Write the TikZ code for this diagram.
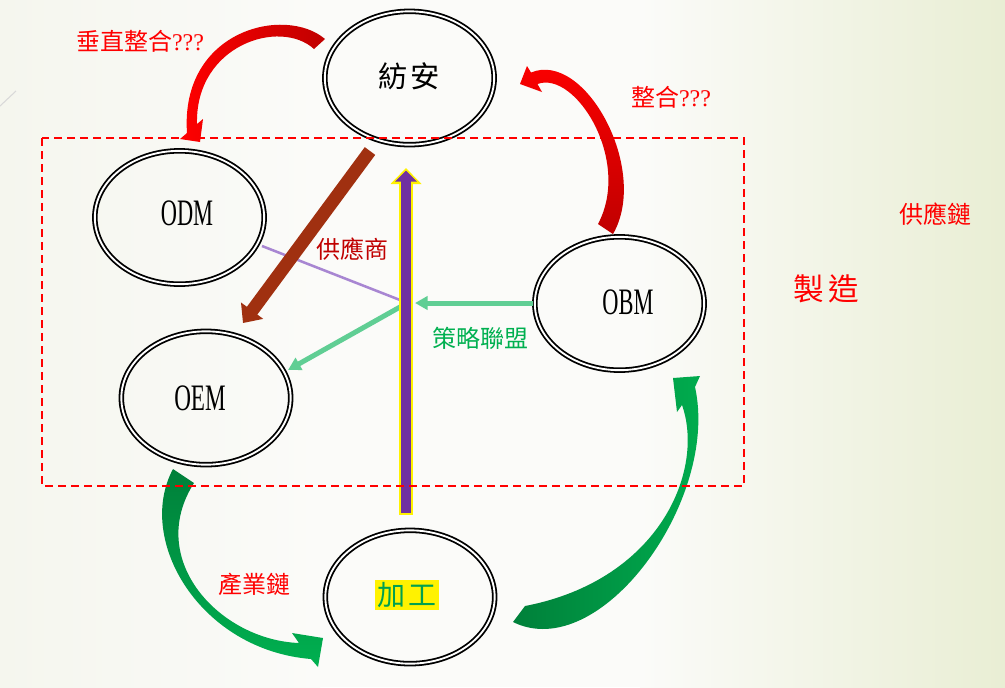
\documentclass[tikz,border=0pt]{standalone}
\usepackage{fontspec}
\setmainfont{Liberation Serif}
\newfontfamily\cjk{Noto Sans CJK TC}
\usetikzlibrary{arrows.meta,shapes.geometric,calc}
\definecolor{bgL}{RGB}{245,246,238}
\definecolor{bgM}{RGB}{251,251,249}
\definecolor{bgR}{RGB}{233,238,212}
\definecolor{brn}{RGB}{160,48,16}
\definecolor{purp}{RGB}{112,48,160}
\definecolor{lav}{RGB}{168,134,210}
\definecolor{lgrn}{RGB}{96,206,148}
\definecolor{grn}{RGB}{0,176,80}
\definecolor{dgrn}{RGB}{0,128,58}
\definecolor{dred}{RGB}{192,0,0}
\definecolor{jgtxt}{RGB}{0,160,80}
\begin{document}
\begin{tikzpicture}[x=0.75pt,y=-0.75pt,
  ell/.style={ellipse, draw=black, line width=1.35pt, double=white, double distance=1.4pt,
              minimum width=127pt, minimum height=100pt, inner sep=0pt},
  latin/.style={font=\fontsize{28}{30}\selectfont, text=black, inner sep=0pt},
  zh/.style={font=\cjk\fontsize{18}{20}\selectfont, inner sep=0pt},
  redlbl/.style={zh, text=red},
  thinline/.style={line width=3.75pt, lgrn, -{Triangle[width=10pt,length=9.5pt]}},
]
\useasboundingbox (0,0) rectangle (1005,687);
\shade[left color=bgL, right color=bgM] (0,0) rectangle (320,687);
\fill[bgM] (319,0) rectangle (641,687);
\shade[left color=bgM, right color=bgR] (640,0) rectangle (1005,687);
\draw[gray!30, line width=0.8pt] (0,106) -- (16,91);

% ellipses
\node[ell] (fa)  at (409.5,78) {};
\node[ell] (odm) at (179.5,217.5) {};
\node[ell] (oem) at (206,398) {};
\node[ell] (obm) at (619.5,303.5) {};
\node[ell] (jg)  at (410,597) {};

% texts inside ellipses
\node[zh, font=\cjk\fontsize{22}{24}\selectfont, text=black] (fat) at (409,76) {紡\hspace{2pt}安};
\node[latin] (odmt) at (187,213) {\scalebox{0.6}[1]{ODM}};
\node[latin] (oemt) at (200,398) {\scalebox{0.62}[1]{OEM}};
\node[latin] (obmt) at (628,302) {\scalebox{0.6}[1]{OBM}};
\node[fill=yellow, inner sep=1.5pt, text=jgtxt, font=\cjk\fontsize{21}{23}\selectfont] (jgt) at (407,595) {加\hspace{3pt}工};

% hub points on the purple arrow
\coordinate (hub1) at ($(jg.center)+(-10,-297)$);
\coordinate (hub2) at ($(jg.center)+(5,-294)$);
\coordinate (hub3) at ($(jg.center)+(-10,-290)$);

% thin connectors
\draw[lav, line width=1.9pt] ($(odm.center)+(82.5,28.5)$) -- (hub1);
\draw[thinline] ($(obm.center)+(-87,-0.5)$) -- (hub2);
\draw[thinline] (hub3) -- ($(oem.center)+(82,-28)$);

% brown arrow
\draw[brn, line width=9.75pt, -{Triangle[width=20pt,length=11.5pt]}]
  ($(fa.center)+(-39.5,73)$) -- ($(oem.center)+(37,-75)$);

% green curved arrows
\begin{scope}[shift={($(oem.center)+(-206,-398)$)}]
\shade[top color=dgrn, bottom color=grn]
 (173,469) .. controls (135,540) and (200,650) .. (311,659)
 -- (318,667) -- (323,638) -- (292,633) -- (299,643)
 .. controls (220,640) and (145,560) .. (194,483) -- cycle;
\end{scope}
\begin{scope}[shift={($(jg.center)+(-410,-597)$)}]
\shade[left color=dgrn, right color=grn]
 (513,622) .. controls (600,665) and (720,500) .. (695,387)
 -- (700,376) -- (673,378) -- (677,412) -- (682,405)
 .. controls (705,470) and (660,580) .. (525,606) -- cycle;
\end{scope}

% purple arrow
\coordinate (pa) at ($(jg.center)+(-4,-82)$);
\coordinate (pb) at ($(fa.center)+(-3.5,90)$);
\draw[yellow, line width=10.5pt, -{Triangle[width=22.5pt,length=12pt]}] (pa) -- (pb);
\draw[purp, line width=7.5pt, shorten <=1.5pt, shorten >=1.9pt, -{Triangle[width=16pt,length=8.25pt]}] (pa) -- (pb);

% dashed frame
\draw[red, line width=1.5pt, dash pattern=on 6pt off 3.75pt] (42,138) rectangle (744,486);

% red curved arrows
\begin{scope}[shift={($(fa.center)+(-409.5,-78)$)}]
\shade[left color=red, right color=dred]
 (325,39) .. controls (285,5) and (180,30) .. (187,133)
 -- (180,139) -- (200,142) -- (203,119) -- (197,124)
 .. controls (195,45) and (280,18) .. (314,49) -- cycle;
\end{scope}
\begin{scope}[shift={($(obm.center)+(-619.5,-303.5)$)}]
\shade[top color=red, bottom color=dred]
 (613,234) .. controls (650,170) and (585,50) .. (531,72.5)
 -- (527,66) -- (520,84) -- (542,92) -- (537.5,84)
 .. controls (575,70) and (632,160) .. (598,224) -- cycle;
\end{scope}

% labels
\node[redlbl] (l1) at (140,41) {垂直整合{\rmfamily ???}};
\node[redlbl] (l2) at (671,97) {整合{\rmfamily ???}};
\node[redlbl] (l3) at (935,214) {供應鏈};
\node[redlbl, font=\cjk\fontsize{23}{25}\selectfont] (l4) at (826,289) {製\hspace{3pt}造};
\node[zh, text=dred] (l5) at (352,249) {供應商};
\node[zh, text=grn] (l6) at (480,338) {策略聯盟};
\node[redlbl] (l7) at (254,584) {產業鏈};
\end{tikzpicture}
\end{document}
